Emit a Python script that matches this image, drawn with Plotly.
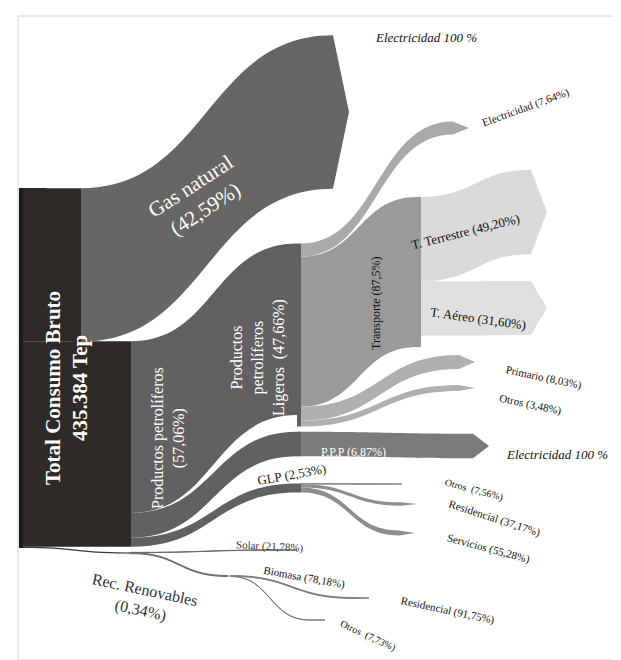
import plotly.graph_objects as go

W, H = 621, 660

# --- data (percentages as printed on the chart) ---
total_tep = 435384
groups = ["Gas natural", "Productos petrolíferos", "Rec. Renovables"]
group_pct = [42.59, 57.06, 0.34]
gas_items = ["Electricidad"]
gas_pct = [100]
petro_items = ["Productos petrolíferos Ligeros", "P.P.P", "GLP"]
petro_pct = [47.66, 6.87, 2.53]
ligeros_items = ["Transporte", "Electricidad", "Primario", "Otros"]
ligeros_pct = [87.5, 7.64, 8.03, 3.48]
transporte_items = ["T. Terrestre", "T. Aéreo"]
transporte_pct = [49.20, 31.60]  # share of light products
ppp_items = ["Electricidad"]
ppp_pct = [100]
glp_items = ["Otros", "Residencial", "Servicios"]
glp_pct = [7.56, 37.17, 55.28]
renov_items = ["Solar", "Biomasa"]
renov_pct = [21.78, 78.18]
biomasa_items = ["Residencial", "Otros"]
biomasa_pct = [91.75, 7.73]

# --- build nodes / links ---
labels, node_pos, node_col = [], [], []
src, tgt, val, lcol = [], [], [], []
CLEAR = "rgba(0,0,0,0)"
OFF_X, OFF_Y = 9, 8  # sankey draws nodes shifted by this much


def add_node(name, px, py, color=CLEAR):
    labels.append(name)
    node_pos.append(((px - OFF_X) / W, (py - OFF_Y) / H))
    node_col.append(color)
    return len(labels) - 1


def add_link(a, b, v, color):
    src.append(a); tgt.append(b); val.append(v); lcol.append(color)


n_total = add_node("Total Consumo Bruto", 22, 368, "#1e1a18")
v_group = [total_tep * p / 100 for p in group_pct]

n_gas = add_node(groups[0], 80, 265, "#2e2a28")
add_link(n_total, n_gas, v_group[0], "#2e2a28")
n = add_node(gas_items[0], 352, 112)
add_link(n_gas, n, v_group[0] * gas_pct[0] / 100, "#686665")

n_petro = add_node(groups[1], 130, 444, "#2e2a28")
add_link(n_total, n_petro, v_group[1], "#2e2a28")
v_petro = [total_tep * p / 100 for p in petro_pct]

n_lig = add_node(petro_items[0], 300, 335, "#626060")
add_link(n_petro, n_lig, v_petro[0], "#626060")
v_lig = [v_petro[0] * p / 100 for p in ligeros_pct]
lig_pos = [(420, 272), (472, 128), (478, 362), (478, 388)]
lig_col = ["#9a9a9a", "#aaaaaa", "#b0b0b0", "#b0b0b0"]
lig_nodes = []
for i, (name, v, (px, py), c) in enumerate(zip(ligeros_items, v_lig, lig_pos, lig_col)):
    k = add_node(name, px, py, c if i == 0 else CLEAR)
    add_link(n_lig, k, v, c)
    lig_nodes.append(k)
for name, p, (px, py), c in zip(transporte_items, transporte_pct,
                                [(550, 212), (550, 308)], ["#dadada", "#e0e0e0"]):
    k = add_node(name, px, py)
    add_link(lig_nodes[0], k, v_petro[0] * p / 100, c)

n_ppp = add_node(petro_items[1], 300, 444, "#626060")
add_link(n_petro, n_ppp, v_petro[1], "#626060")
k = add_node(ppp_items[0], 492, 446)
add_link(n_ppp, k, v_petro[1] * ppp_pct[0] / 100, "#7c7b7b")

n_glp = add_node(petro_items[2], 300, 488, "#626060")
add_link(n_petro, n_glp, v_petro[2], "#626060")
for name, p, (px, py) in zip(glp_items, glp_pct, [(405, 484), (420, 504), (418, 533)]):
    k = add_node(name, px, py)
    add_link(n_glp, k, v_petro[2] * p / 100, "#8e8e8e")

n_ren = add_node(groups[2], 130, 553, "#3a3634")
add_link(n_total, n_ren, v_group[2], "#3a3634")
v_ren = [v_group[2] * p / 100 for p in renov_pct]
n_sol = add_node(renov_items[0], 300, 550)
add_link(n_ren, n_sol, v_ren[0], "#6a6a6a")
n_bio = add_node(renov_items[1], 230, 576, "#6a6a6a")
add_link(n_ren, n_bio, v_ren[1], "#6a6a6a")
for name, p, (px, py) in zip(biomasa_items, biomasa_pct, [(372, 598), (328, 620)]):
    k = add_node(name, px, py)
    add_link(n_bio, k, v_ren[1] * p / 100, "#7c7c7c")

# terminal links get arrowheads (drawn by a second, identical sankey layer)
has_out = set(src)
terminal = [t not in has_out for t in tgt]
body_col = [CLEAR if term else c for c, term in zip(lcol, terminal)]
head_col = [c if term else CLEAR for c, term in zip(lcol, terminal)]

nx = [p[0] for p in node_pos]
ny = [p[1] for p in node_pos]


def layer(node_colors, link_colors, arrow):
    return go.Sankey(
        arrangement="fixed",
        domain=dict(x=[0, 1], y=[0, 1]),
        node=dict(label=labels, x=nx, y=ny, pad=25, thickness=4,
                  color=node_colors, line=dict(width=0),
                  hovertemplate="%{label}: %{value:,.0f} Tep<extra></extra>"),
        link=dict(source=src, target=tgt, value=val, color=link_colors, arrowlen=arrow,
                  line=dict(width=0),
                  hovertemplate="%{source.label} → %{target.label}: %{value:,.0f} Tep<extra></extra>"),
        textfont=dict(size=1, color=CLEAR),
    )


fig = go.Figure([
    layer(node_col, body_col, 0),
    layer([CLEAR] * len(labels), head_col, 16),
])

SERIF = "Liberation Serif"


def note(text, px, py, size=11, color="#111111", angle=0, italic=False, bold=False, anchor="center"):
    t = text
    if italic:
        t = "<i>" + t + "</i>"
    if bold:
        t = "<b>" + t + "</b>"
    fig.add_annotation(x=px / W, y=1 - py / H, xref="paper", yref="paper", text=t,
                       showarrow=False, textangle=angle, xanchor=anchor, yanchor="middle",
                       font=dict(family=SERIF, size=size, color=color))


note("Total Consumo Bruto<br>435.384 Tep", 58, 380, 21, "white", -90, bold=True)
note("Gas natural<br>(42,59%)", 190, 190, 21, "white", -33)
note("Productos petrolíferos<br>(57,06%)", 160, 430, 16, "white", -90)
note("Productos<br>petrolíferos<br>Ligeros  (47,66%)", 250, 350, 16, "white", -90)
note("Transporte (87,5%)", 368, 295, 12, "#111111", -90)
note("Electricidad 100 %", 365, 30, 13, italic=True, anchor="left")
note("Electricidad (7,64%)", 518, 100, 11, angle=-20)
note("T. Terrestre (49,20%)", 458, 224, 13, angle=-14)
note("T. Aéreo (31,60%)", 470, 310, 13, angle=8)
note("Primario (8,03%)", 535, 370, 11, angle=12)
note("Otros (3,48%)", 522, 396, 11, angle=12)
note("P.P.P (6,87%)", 345, 444, 12, "white")
note("Electricidad 100 %", 496, 446, 13, italic=True, anchor="left")
note("GLP (2,53%)", 284, 467, 13, "#222222", -10)
note("Otros  (7,56%)", 466, 482, 10, angle=15)
note("Residencial (37,17%)", 487, 510, 11, angle=18)
note("Servicios (55,28%)", 480, 540, 11, angle=15)
note("Rec. Renovables<br>(0,34%)", 135, 592, 16, "#333333", 12)
note("Solar (21,78%)", 262, 538, 11, "#333333", 3)
note("Biomasa (78,18%)", 296, 569, 11, "#111111", 10)
note("Residencial (91,75%)", 440, 602, 11, angle=12)
note("Otros  (7,73%)", 360, 628, 10, angle=25)

fig.add_shape(type="rect", xref="paper", yref="paper",
              x0=10 / W, x1=612 / W, y0=1 - 652 / H, y1=1 - 8 / H,
              line=dict(color="#d4d4d4", width=1))

fig.update_layout(width=W, height=H, margin=dict(l=0, r=0, t=0, b=0),
                  paper_bgcolor="white", plot_bgcolor="white",
                  font=dict(family=SERIF))
fig.write_html("out.html")
